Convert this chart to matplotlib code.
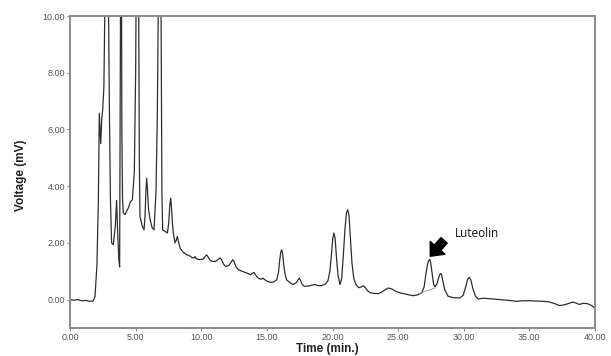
import matplotlib
matplotlib.use('Agg')
import matplotlib.pyplot as plt

# chromatogram trace (time in min, signal in mV)
time_min = [0.0, 0.3, 0.6, 0.9, 1.2, 1.5, 1.75, 1.9, 2.05, 2.16, 2.23, 2.30, 2.34, 2.42, 2.49,
            2.58, 2.66, 2.75, 2.85, 2.93, 3.0, 3.08, 3.17, 3.3, 3.45, 3.55, 3.62, 3.72, 3.78,
            3.86, 3.92, 3.95, 4.0, 4.06, 4.2, 4.35, 4.44, 4.6, 4.75, 4.9, 5.0, 5.08, 5.2, 5.28,
            5.33, 5.5, 5.64, 5.72, 5.78, 5.84, 5.9, 5.98, 6.1, 6.25, 6.4, 6.55, 6.65, 6.76,
            6.92, 7.0, 7.06, 7.25, 7.42, 7.52, 7.6, 7.67, 7.74, 7.8, 7.87, 8.0, 8.1, 8.18,
            8.26, 8.4, 8.6, 8.89, 9.1, 9.3, 9.45, 9.52, 9.6, 9.75, 9.9, 10.15, 10.3, 10.4,
            10.5, 10.65, 10.8, 11.1, 11.3, 11.43, 11.55, 11.7, 11.85, 12.1, 12.3, 12.4, 12.5,
            12.65, 12.83, 13.1, 13.46, 13.75, 13.9, 14.0, 14.1, 14.25, 14.4, 14.6, 14.7,
            14.85, 15.0, 15.24, 15.5, 15.75, 15.88, 15.98, 16.06, 16.13, 16.2, 16.28, 16.38,
            16.5, 16.75, 17.0, 17.25, 17.38, 17.47, 17.56, 17.7, 17.85, 18.2, 18.5, 18.67,
            18.85, 19.17, 19.45, 19.65, 19.8, 19.92, 20.02, 20.11, 20.2, 20.3, 20.42, 20.57,
            20.7, 20.83, 20.95, 21.06, 21.16, 21.26, 21.36, 21.48, 21.62, 21.8, 22.0, 22.2,
            22.35, 22.5, 22.7, 22.9, 23.2, 23.5, 23.8, 24.05, 24.25, 24.5, 24.8, 25.14,
            25.5, 25.8, 26.15, 26.5, 26.8, 26.98, 27.1, 27.22, 27.32, 27.4, 27.48, 27.58,
            27.7, 27.8, 27.95, 28.12, 28.22, 28.3, 28.4, 28.55, 28.8, 29.2, 29.7, 29.95,
            30.15, 30.3, 30.42, 30.55, 30.7, 30.9, 31.1, 31.5, 31.8, 32.3, 32.76, 33.2,
            33.5, 34.0, 34.5, 35.0, 35.6, 36.06, 36.5, 36.8, 37.3, 37.6, 37.9, 38.2, 38.35,
            38.55, 38.8, 39.1, 39.4, 39.7, 40.0]
voltage_mv = [0.0, -0.02, 0.0, -0.04, -0.03, -0.06, -0.05, 0.1, 1.2, 3.5, 6.57, 5.9, 5.5, 6.4, 6.7,
              7.5, 10.5, 14, 14, 10.5, 6.7, 3.5, 2.0, 1.94, 2.6, 3.5, 2.5, 1.4, 1.15,
              12, 12, 5.9, 3.6, 3.05, 3.0, 3.15, 3.23, 3.45, 3.52, 4.5, 8, 14, 14, 5,
              2.93, 2.6, 2.46, 3.0, 3.8, 4.28, 3.9, 3.2, 2.82, 2.55, 2.46, 3.8, 6.45, 12,
              12, 3.8, 2.46, 2.4, 2.35, 2.7, 3.3, 3.58, 3.2, 2.7, 2.35, 2.0, 2.1, 2.23,
              2.05, 1.8, 1.68, 1.58, 1.55, 1.48, 1.47, 1.52, 1.45, 1.42, 1.41, 1.43, 1.52, 1.58,
              1.52, 1.4, 1.35, 1.35, 1.42, 1.47, 1.4, 1.25, 1.17, 1.2, 1.34, 1.41, 1.34,
              1.15, 1.06, 1.0, 0.94, 0.88, 0.93, 0.96, 0.9, 0.8, 0.74, 0.72, 0.76,
              0.7, 0.65, 0.61, 0.62, 0.7, 0.95, 1.4, 1.68, 1.76, 1.62, 1.25, 0.9,
              0.7, 0.6, 0.53, 0.6, 0.7, 0.76, 0.68, 0.53, 0.47, 0.48, 0.52, 0.53,
              0.5, 0.49, 0.55, 0.66, 1.0, 1.6, 2.15, 2.35, 2.15, 1.5, 0.85, 0.53,
              0.75, 1.6, 2.5, 3.05, 3.17, 2.95, 2.2, 1.3, 0.75, 0.52, 0.42, 0.45,
              0.49, 0.42, 0.3, 0.24, 0.22, 0.21, 0.28, 0.36, 0.41, 0.38, 0.3, 0.24,
              0.2, 0.17, 0.14, 0.17, 0.24, 0.45, 0.85, 1.2, 1.38, 1.41, 1.3, 0.95,
              0.55, 0.45, 0.55, 0.82, 0.92, 0.9, 0.68, 0.35, 0.12, 0.07, 0.06, 0.15,
              0.45, 0.72, 0.79, 0.68, 0.38, 0.12, 0.02, 0.05, 0.04, 0.02, 0.0, -0.02,
              -0.03, -0.06, -0.04, -0.04, -0.05, -0.06, -0.08, -0.12, -0.21, -0.19, -0.15, -0.1, -0.09,
              -0.12, -0.17, -0.13, -0.14, -0.2, -0.29]

# integration baseline drawn under the luteolin peak
lut_base_t = [26.54, 27.81]
lut_base_v = [0.21, 0.41]
lut_peak_t = 27.4
lut_peak_v = 1.41

x_ticks = [0, 5, 10, 15, 20, 25, 30, 35, 40]
y_ticks = [0, 2, 4, 6, 8, 10]

frame_col = '#8a8a8a'
tick_col = '#555555'

fig = plt.figure(figsize=(6.11, 3.56), dpi=100)
ax = fig.add_axes([0.1146, 0.0787, 0.8592, 0.8763])

ax.plot(time_min, voltage_mv, color='#2e2e2e', lw=0.9)
ax.plot(lut_base_t, lut_base_v, color='#999999', lw=0.7)

ax.set_xlim(0, 40)
ax.set_ylim(-1, 10)
ax.set_xticks(x_ticks)
ax.set_yticks(y_ticks)
ax.set_xticklabels(['%.2f' % t for t in x_ticks])
ax.set_yticklabels(['%.2f' % v for v in y_ticks])
ax.tick_params(labelsize=6.5, colors=frame_col, labelcolor=tick_col, length=2, pad=1.5)
for lab in ax.get_xticklabels() + ax.get_yticklabels():
    lab.set_family('Liberation Sans')

for s in ax.spines.values():
    s.set_color(frame_col)
    s.set_linewidth(1.4)

ax.set_xlabel('Time (min.)', fontsize=8.5, fontweight='bold', family='Liberation Sans', color='#222222')
ax.set_ylabel('Voltage (mV)', fontsize=8.5, fontweight='bold', family='Liberation Sans', color='#222222')
ax.xaxis.set_label_coords(0.49, -0.047)
ax.yaxis.set_label_coords(-0.082, 0.49)

# block arrow pointing at the luteolin peak
ax.annotate('', xy=(lut_peak_t + 0.05, lut_peak_v + 0.12),
            xytext=(lut_peak_t + 1.1, lut_peak_v + 0.68),
            arrowprops=dict(facecolor='black', edgecolor='black', width=6,
                            headwidth=14, headlength=8, shrink=0))
ax.text(lut_peak_t + 3.6, lut_peak_v + 0.92, 'Luteolin', fontsize=8.5,
        family='Open Sans', ha='center', va='center', color='#111111')

fig.savefig('out.png', dpi=100)
